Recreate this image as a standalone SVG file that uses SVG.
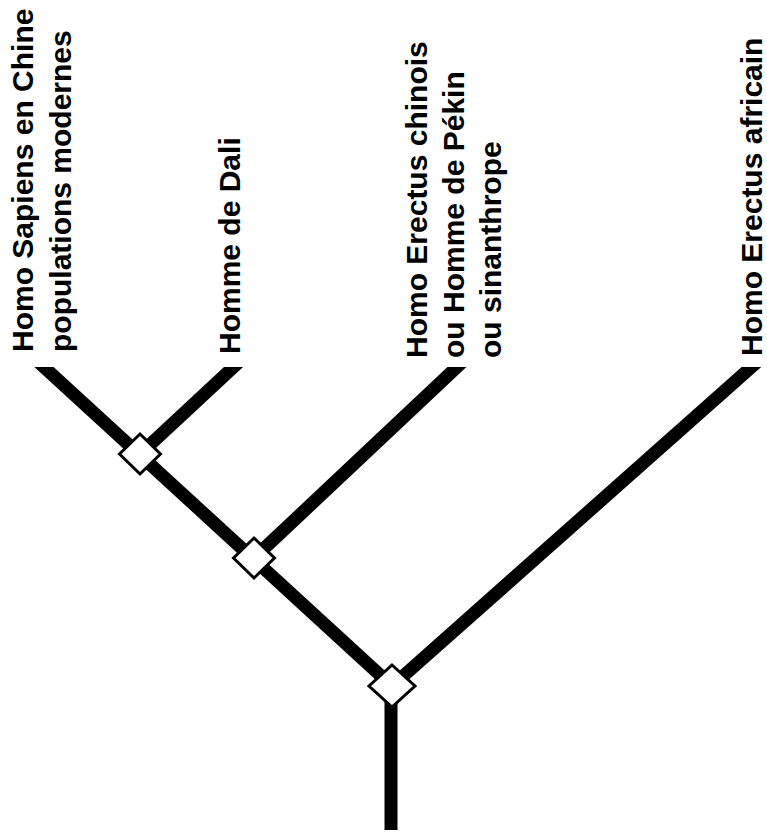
<svg xmlns="http://www.w3.org/2000/svg" width="767" height="832" viewBox="0 0 767 832">
<style>
.lbl{font-family:"Liberation Sans",Arial,sans-serif;font-weight:bold;font-size:30px;fill:#000}
.br{stroke:#000;stroke-width:13;fill:none;stroke-linecap:butt}
.nd{fill:#fff;stroke:#000;stroke-width:3}
</style>
<defs>
<clipPath id="clip"><rect x="0" y="367" width="767" height="465"/></clipPath>
</defs>
<rect width="767" height="832" fill="#fff"/>
<g id="connectors" clip-path="url(#clip)">
<line class="br" x1="32.9" y1="356.9" x2="392" y2="686"/>
<line class="br" x1="244.5" y1="356.8" x2="140" y2="454"/>
<line class="br" x1="467.9" y1="356.7" x2="254" y2="558"/>
<line class="br" x1="762.7" y1="357" x2="392" y2="686"/>
<line class="br" x1="391" y1="686" x2="391" y2="830"/>
</g>
<g id="node1"><polygon class="nd" points="140,434 160.5,454 140,474 119.5,454"/></g>
<g id="node2"><polygon class="nd" points="254,538 274.5,558 254,578 233.5,558"/></g>
<g id="node3"><polygon class="nd" points="392,665 415,686 392,707 369,686"/></g>
<g id="leaf-sapiens">
<text class="lbl" transform="translate(33,352) rotate(-90)">Homo Sapiens en Chine</text>
<text class="lbl" transform="translate(71,352) rotate(-90)">populations modernes</text>
</g>
<g id="leaf-dali">
<text class="lbl" transform="translate(240,354) rotate(-90)">Homme de Dali</text>
</g>
<g id="leaf-pekin">
<text class="lbl" transform="translate(427,358) rotate(-90)">Homo Erectus chinois</text>
<text class="lbl" transform="translate(464,358) rotate(-90)">ou Homme de Pékin</text>
<text class="lbl" transform="translate(501,358) rotate(-90)">ou sinanthrope</text>
</g>
<g id="leaf-africain">
<text class="lbl" transform="translate(762,356) rotate(-90)">Homo Erectus africain</text>
</g>
</svg>
